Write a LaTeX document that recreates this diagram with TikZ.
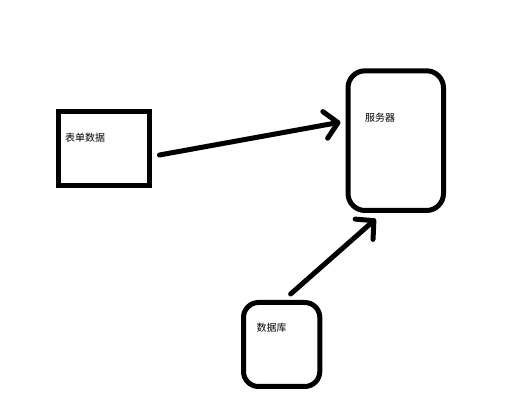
\documentclass[tikz,border=0pt]{standalone}
\usepackage{fontspec}
\newfontfamily\cjk{Noto Sans CJK SC}
\usetikzlibrary{calc,arrows.meta}
\begin{document}
\begin{tikzpicture}[x=1pt,y=-1pt,
  box/.style={draw=black,line width=5pt,inner sep=0pt},
  lbl/.style={anchor=west,inner sep=0pt,font=\cjk\fontsize{10pt}{12pt}\selectfont},
  conn/.style={line width=5pt,line cap=round,line join=round,
    -{Straight Barb[length=13pt,width=27pt,line cap=round,line join=round]}}]
\useasboundingbox (0,0) rectangle (531,419);
\node[box,minimum width=90.5pt,minimum height=74pt] (b1) at (103.75,148.5) {};
\node[box,rounded corners=17pt,minimum width=95.5pt,minimum height=139.7pt] (b2) at (395.75,140.65) {};
\node[box,rounded corners=15pt,minimum width=76.3pt,minimum height=84pt] (b3) at (281.65,344.5) {};
\node[lbl] (t1) at (65,137.3) {表单数据};
\node[lbl] (t2) at (365,117.3) {服务器};
\node[lbl] (t3) at (256.5,327.3) {数据库};
\draw[conn] ($(b1.east)+(8,6.5)$) -- ($(b2.west)+(-5,-18.5)$);
\draw[conn] ($(b3.north)+(9,-6)$) -- ($(b2.south)+(-20,6)$);
\end{tikzpicture}
\end{document}
